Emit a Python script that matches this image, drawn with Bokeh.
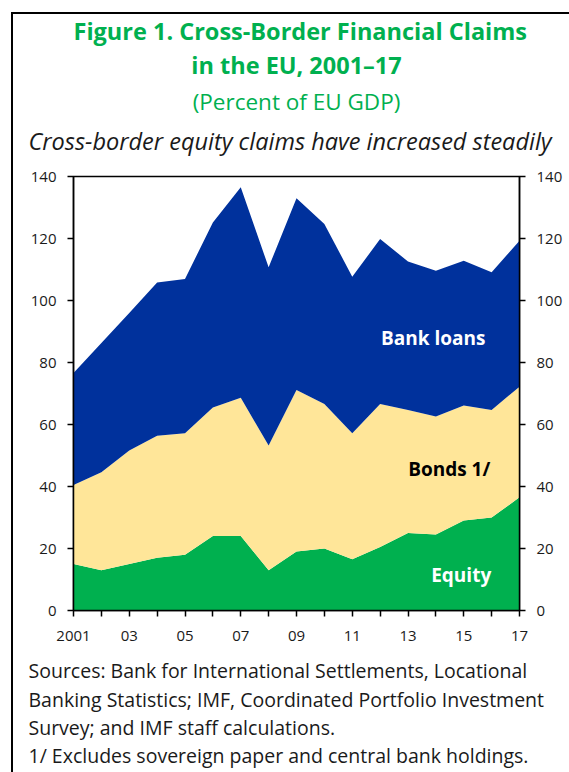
from bokeh.plotting import figure
from bokeh.models import ColumnDataSource, Label, LinearAxis, FixedTicker, Range1d, Title
from bokeh.embed import file_html
from bokeh.resources import INLINE

years = list(range(2001, 2018))
equity = [15.0, 13.0, 15.0, 17.0, 18.0, 24.0, 24.0, 13.0, 19.0, 20.0, 16.5, 20.5, 25.0, 24.5, 29.0, 30.0, 36.5]
bonds = [25.5, 31.6, 36.6, 39.4, 39.2, 41.5, 44.6, 40.2, 52.1, 46.6, 40.7, 46.1, 39.7, 38.1, 37.1, 34.7, 35.7]
bank_loans = [36.1, 41.7, 44.4, 49.4, 49.7, 59.7, 67.9, 57.5, 61.9, 58.1, 50.5, 53.2, 47.9, 47.0, 46.7, 44.4, 47.1]
y_ticks = [0, 20, 40, 60, 80, 100, 120, 140]
x_tick_labels = {2001: "2001", 2003: "03", 2005: "05", 2007: "07", 2009: "09",
                 2011: "11", 2013: "13", 2015: "15", 2017: "17"}

FONT = "Open Sans"
GREEN = "#00B04F"
NAVY = "#00319C"
YELLOW = "#FFE699"
TXT = "#1a1a1a"

src = ColumnDataSource(dict(year=years, equity=equity, bonds=bonds, loans=bank_loans))

p = figure(width=569, height=772, x_range=Range1d(2001, 2017), y_range=Range1d(0, 140),
           output_backend="svg", toolbar_location=None, title_location=None,
           min_border_left=73, min_border_right=50, min_border_top=176, min_border_bottom=162)
p.background_fill_color = "white"
p.border_fill_color = None
p.styles = {
    "background-color": "white",
    "background-image": "linear-gradient(#000,#000), linear-gradient(#000,#000)",
    "background-repeat": "no-repeat",
    "background-size": "2px 100%, 100% 2px",
    "background-position": "11px 12px, 11px 12px",
}
p.xgrid.visible = False
p.ygrid.visible = False
p.outline_line_color = "black"
p.outline_line_width = 1.5

p.varea_stack(stackers=["equity", "bonds", "loans"], x="year", color=[GREEN, YELLOW, NAVY], source=src)

# axes
p.yaxis.ticker = FixedTicker(ticks=y_ticks)
p.xaxis.ticker = FixedTicker(ticks=years)
p.xaxis.major_label_overrides = {y: x_tick_labels.get(y, "") for y in years}

right = LinearAxis(ticker=FixedTicker(ticks=y_ticks))
p.add_layout(right, "right")

for ax in [p.xaxis[0], p.yaxis[0], right]:
    ax.axis_line_color = "black"
    ax.axis_line_width = 1.5
    ax.major_tick_line_color = "black"
    ax.major_tick_line_width = 1.5
    ax.major_tick_out = 6
    ax.major_tick_in = 0
    ax.minor_tick_line_color = None
    ax.major_label_text_font = FONT
    ax.major_label_text_font_size = "15px"
    ax.major_label_text_color = TXT
    ax.major_label_standoff = 11
p.xaxis.major_label_standoff = 14

# titles (panels stack outward from the frame in the order added)
def title(text, place, size, color, style="normal", align="center", offset=0, standoff=0,
          line_height=1.0):
    p.add_layout(Title(text=text, align=align, offset=offset, standoff=standoff,
                       text_font=FONT, text_font_size=size, text_font_style=style,
                       text_color=color, text_line_height=line_height), place)

title(" ", "above", "1px", TXT, standoff=12.6)  # spacer
title("Cross-border equity claims have increased steadily", "above", "23.5px", TXT, "italic",
      align="left", offset=-45, standoff=7.6)
title("(Percent of EU GDP)", "above", "22.5px", GREEN, standoff=3.6)
title("in the EU, 2001\u201317", "above", "23.5px", GREEN, "bold", standoff=0.6)
title("Figure 1. Cross-Border Financial Claims", "above", "23.5px", GREEN, "bold",
      align="left", offset=0, standoff=0)

foot = ["Sources: Bank for International Settlements, Locational",
        "Banking Statistics; IMF, Coordinated Portfolio Investment",
        "Survey; and IMF staff calculations.",
        "1/ Excludes sovereign paper and central bank holdings."]
title(" ", "below", "1px", TXT, standoff=15.5)  # spacer
title("\n".join(foot), "below", "19.5px", TXT, align="left", offset=-45, standoff=-14,
      line_height=1.05)

# in-chart series labels (page pixel -> data coordinates)
def X(px):
    return 2001 + (px - 73.3) / 27.875

def Y(py):
    return (610 - py) / 3.102

def lab(text, px, py, color):
    p.add_layout(Label(x=X(px), y=Y(py), text=text, text_font=FONT, text_font_size="19px",
                       text_color=color, text_font_style="bold", text_align="center",
                       text_baseline="middle"))

lab("Bank loans", 433, 337, "white")
lab("Bonds 1/", 449, 468, "black")
lab("Equity", 461, 574, "white")

open("out.html", "w").write(file_html(p, INLINE))
